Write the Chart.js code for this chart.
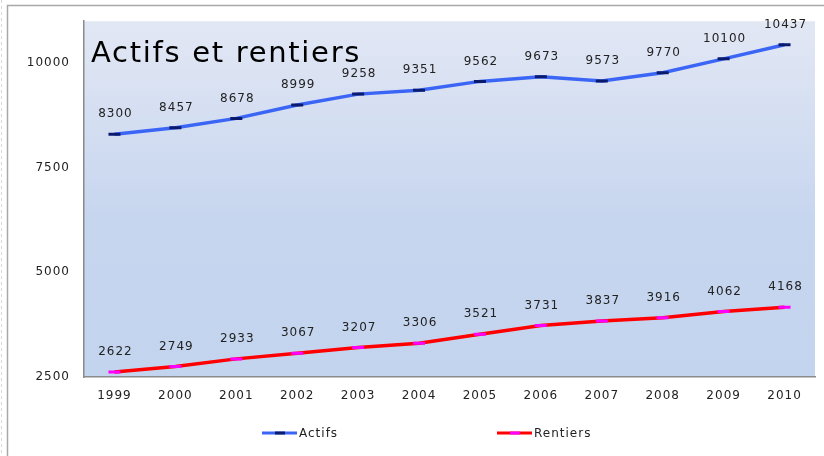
<!DOCTYPE html>
<html>
<head>
<meta charset="utf-8">
<script src="https://cdn.jsdelivr.net/npm/chart.js@4/dist/chart.umd.min.js"></script>
<style>
  html, body { margin: 0; padding: 0; background: #fff; }
  #wrap { width: 824px; height: 456px; position: relative; }
</style>
</head>
<body>
<div id="wrap"><canvas id="chart" width="824" height="456"></canvas></div>
<script>
// ==== Données ====
const years = ['1999', '2000', '2001', '2002', '2003', '2004', '2005', '2006', '2007', '2008', '2009', '2010'];
const actifs = [8300, 8457, 8678, 8999, 9258, 9351, 9562, 9673, 9573, 9770, 10100, 10437];
const rentiers = [2622, 2749, 2933, 3067, 3207, 3306, 3521, 3731, 3837, 3916, 4062, 4168];
const yTicks = [2500, 5000, 7500, 10000];
const titre = 'Actifs et rentiers';

const FONT = '"DejaVu Sans", Verdana, sans-serif';

// ==== Fond du graphique + cadre ====
const fondPlugin = {
    id: 'fond',
    beforeDraw(chart) {
        const { ctx, chartArea: a } = chart;
        ctx.save();
        // cadre extérieur
        ctx.strokeStyle = '#a8a8a8';
        ctx.lineWidth = 1.5;
        ctx.beginPath();
        ctx.moveTo(7.5, 456);
        ctx.lineTo(7.5, 5.5);
        ctx.lineTo(824, 5.5);
        ctx.stroke();
        ctx.strokeStyle = '#d8d8d8';
        ctx.lineWidth = 1;
        ctx.setLineDash([3, 3]);
        ctx.beginPath();
        ctx.moveTo(1.5, 0);
        ctx.lineTo(1.5, 456);
        ctx.stroke();
        ctx.setLineDash([]);
        // fond dégradé de la zone de tracé
        const g = ctx.createLinearGradient(0, a.top, 0, a.bottom);
        g.addColorStop(0, '#e2e7f4');
        g.addColorStop(0.55, '#c7d6ef');
        g.addColorStop(1, '#c3d4ee');
        ctx.fillStyle = g;
        ctx.fillRect(a.left, a.top, a.right - a.left, a.bottom - a.top);
        ctx.restore();
        ctx.letterSpacing = '1px';
    }
};

// ==== Titre + étiquettes de valeurs + légende ====
const textesPlugin = {
    id: 'textes',
    afterDatasetsDraw(chart) {
        const { ctx, chartArea: a } = chart;
        ctx.save();
        ctx.letterSpacing = '1.7px';
        ctx.fillStyle = '#000';
        ctx.font = '29px ' + FONT;
        ctx.textBaseline = 'alphabetic';
        ctx.textAlign = 'left';
        ctx.fillText(titre, a.left + 7, 62);

        ctx.letterSpacing = '1px';
        ctx.font = '12px ' + FONT;
        ctx.fillStyle = '#222';
        ctx.textAlign = 'center';
        ctx.textBaseline = 'middle';
        chart.data.datasets.forEach((ds, i) => {
            chart.getDatasetMeta(i).data.forEach((pt, j) => {
                ctx.fillText(String(ds.data[j]), pt.x + 1, pt.y - 20);
            });
        });

        // légende
        const pos = [262, 497];
        chart.data.datasets.forEach((ds, i) => {
            const x = pos[i], y = 433;
            ctx.strokeStyle = ds.borderColor;
            ctx.lineWidth = 3;
            ctx.beginPath();
            ctx.moveTo(x, y);
            ctx.lineTo(x + 35, y);
            ctx.stroke();
            ctx.strokeStyle = ds.pointBorderColor;
            ctx.beginPath();
            ctx.moveTo(x + 13, y);
            ctx.lineTo(x + 23, y);
            ctx.stroke();
            ctx.fillStyle = '#222';
            ctx.textAlign = 'left';
            ctx.fillText(ds.label, x + 37, y + 1);
        });
        ctx.restore();
    }
};

const ctx = document.getElementById('chart').getContext('2d');
const chart = new Chart(ctx, {
    type: 'line',
    data: {
        labels: years,
        datasets: [
            {
                label: 'Actifs',
                data: actifs,
                borderColor: '#3b66f5',
                borderWidth: 3.5,
                pointStyle: 'line',
                pointRadius: 6,
                pointBorderWidth: 3,
                pointBorderColor: '#0a1a6e',
                tension: 0,
                fill: false
            },
            {
                label: 'Rentiers',
                data: rentiers,
                borderColor: '#ff0000',
                borderWidth: 3.5,
                pointStyle: 'line',
                pointRadius: 6,
                pointBorderWidth: 3,
                pointBorderColor: '#ff00ff',
                tension: 0,
                fill: false
            }
        ]
    },
    options: {
        responsive: false,
        animation: false,
        events: [],
        layout: { padding: { left: 0, top: 20, right: 7, bottom: 39 } },
        plugins: {
            legend: { display: false },
            title: { display: false },
            tooltip: { enabled: false }
        },
        scales: {
            x: {
                offset: true,
                grid: { display: false, drawTicks: false },
                border: { display: true, color: '#8a8a8a', width: 1.5 },
                ticks: { color: '#222', font: { family: FONT, size: 12 }, padding: 12, maxRotation: 0 },
                afterFit(scale) { scale.height = 40; }
            },
            y: {
                min: 2500,
                max: 11000,
                grid: { display: false, drawTicks: false },
                border: { display: true, color: '#8a8a8a', width: 1.5 },
                ticks: {
                    color: '#222',
                    font: { family: FONT, size: 12 },
                    padding: 14,
                    callback: v => String(v)
                },
                afterBuildTicks(scale) { scale.ticks = yTicks.map(v => ({ value: v })); },
                afterFit(scale) { scale.width = 84; }
            }
        }
    },
    plugins: [fondPlugin, textesPlugin]
});
</script>
</body>
</html>
